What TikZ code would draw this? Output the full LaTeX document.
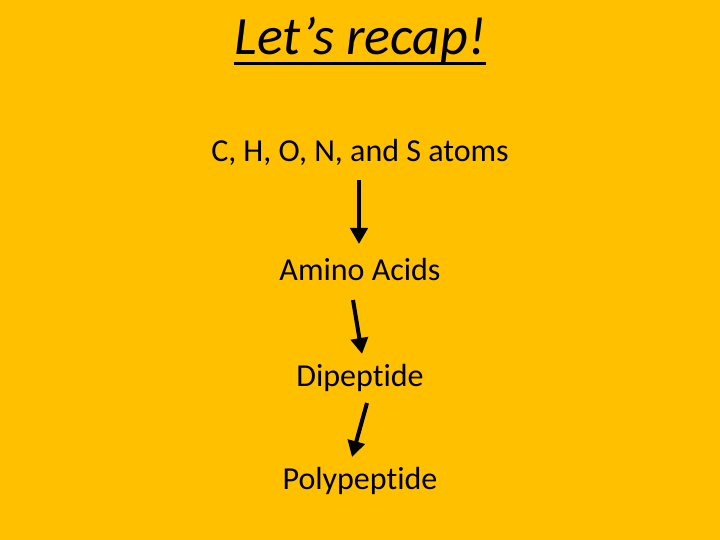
\documentclass[tikz,border=0pt]{standalone}
\usepackage{fontspec}
\setmainfont[Ligatures=NoCommon]{Carlito}
\usetikzlibrary{arrows.meta, positioning}

\begin{document}
\begin{tikzpicture}[x=1pt, y=-1pt, titlestyle/.style={font=\fontsize{54}{60}\selectfont\itshape, inner sep=0pt}, itemstyle/.style={font=\fontsize{32}{36}\selectfont, inner sep=0pt}, flow/.style={-{Triangle[length=16pt, width=17pt]}, line width=4pt}]
  % slide background
  \fill[fill={rgb,255:red,255;green,192;blue,0}] (0,0) rectangle (720,540);
  \useasboundingbox (0,0) rectangle (720,540);

  % title
  \node[titlestyle] (title) at (360,40) {Let’s recap!};
  \draw[line width=3pt] ([yshift=-9pt]title.base west) -- ([yshift=-9pt]title.base east);

  % steps
  \node[itemstyle] (atoms) at (360,152) {C, H, O, N, and S atoms};
  \node[itemstyle] (amino) at (360,270) {Amino Acids};
  \node[itemstyle] (dipep) at (360,378) {Dipeptide};
  \node[itemstyle] (polypep) at (360,481) {Polypeptide};

  % arrow ends
  \coordinate (a1) at (359,180);
  \coordinate (b1) at (359,244);
  \coordinate (a2) at (353,300);
  \coordinate (b2) at (362,354);
  \coordinate (a3) at (367,403);
  \coordinate (b3) at (352,457);

  % arrows
  \draw[flow] (a1) -- (b1);
  \draw[flow] (a2) -- (b2);
  \draw[flow] (a3) -- (b3);

\end{tikzpicture}
\end{document}
